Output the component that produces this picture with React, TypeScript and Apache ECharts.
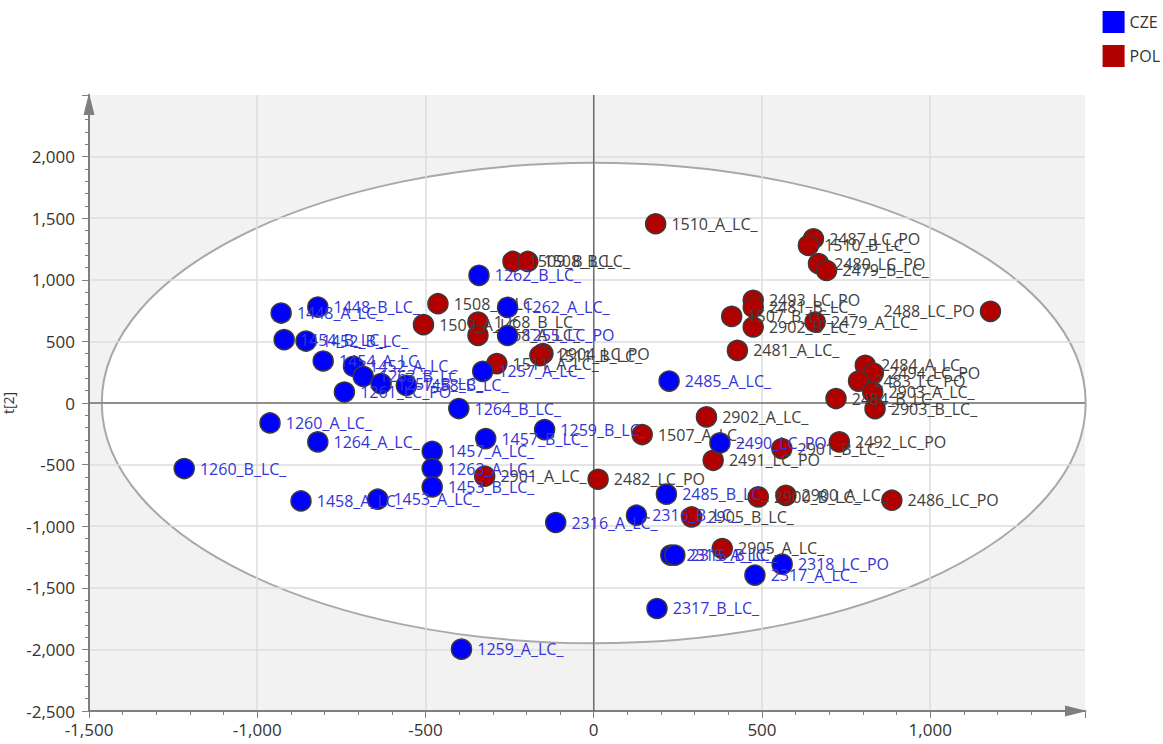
import React, { useEffect, useRef } from 'react';
import * as echarts from 'echarts';

// ---- data ----
const czeLabels = [
  '1262_B_LC_', '1262_A_LC_', '1255_LC_PO', '1257_A_LC_', '1448_A_LC_', '1448_B_LC_',
  '1454_B_LC_', '1452_B_LC_', '1454_A_LC_', '1452_A_LC_', '1263_B_LC_', '1257_B_LC_',
  '1458_B_LC_', '1261_LC_PO', '1264_B_LC_', '1260_A_LC_', '1264_A_LC_', '1457_A_LC_',
  '1263_A_LC_', '1453_B_LC_', '1260_B_LC_', '1458_A_LC_', '1453_A_LC_', '1457_B_LC_',
  '1259_B_LC_', '2316_A_LC_', '2316_B_LC_', '2485_B_LC_', '2490_LC_PO', '2485_A_LC_',
  '2315_A_LC_', '2315_B_LC_', '2318_LC_PO', '2317_A_LC_', '2317_B_LC_', '1259_A_LC_',
];
const czeX = [
  -341, -256, -256, -330, -929, -820,
  -920, -855, -804, -714, -685, -632,
  -557, -741, -401, -962, -820, -480,
  -480, -480, -1217, -870, -642, -321,
  -146, -113, 127, 216, 375, 224,
  229, 241, 560, 479, 188, -393,
];
const czeY = [
  1036, 776, 548, 257, 730, 779,
  514, 503, 341, 298, 216, 157,
  143, 89, -45, -162, -316, -392,
  -532, -681, -532, -795, -781, -289,
  -216, -970, -911, -740, -324, 178,
  -1235, -1235, -1308, -1397, -1668, -1998,
];

const polLabels = [
  '1510_A_LC_', '2487_LC_PO', '1510_B_LC_', '2480_LC_PO', '2479_B_LC_', '2493_LC_PO',
  '2481_B_LC_', '1507_B_LC_', '2902_B_LC_', '2479_A_LC_', '2488_LC_PO', '2481_A_LC_',
  '2484_A_LC_', '2494_LC_PO', '2483_LC_PO', '2903_A_LC_', '2484_B_LC_', '2903_B_LC_',
  '2492_LC_PO', '2901_B_LC_', '2491_LC_PO', '2902_A_LC_', '1507_A_LC_', '2482_LC_PO',
  '2901_A_LC_', '2900_B_LC_', '2900_A_LC_', '2486_LC_PO', '2905_B_LC_', '2905_A_LC_',
  '1509_B_LC_', '1508_B_LC_', '1508_A_LC_', '1509_A_LC_', '1268_B_LC_', '1268_A_LC_',
  '1511_A_LC_', '2904_LC_PO', '1511_B_LC_',
];
const polX = [
  184, 653, 638, 668, 692, 474,
  474, 410, 474, 658, 1179, 427,
  807, 831, 787, 829, 720, 836,
  730, 559, 355, 335, 144, 13,
  -324, 489, 571, 886, 291, 382,
  -240, -196, -463, -506, -344, -344,
  -288, -151, -160,
];
const polY = [
  1455, 1333, 1279, 1131, 1076, 834,
  777, 703, 617, 657, 744, 427,
  306, 243, 178, 89, 36, -46,
  -316, -370, -465, -113, -256, -619,
  -594, -762, -750, -789, -925, -1181,
  1149, 1149, 806, 636, 657, 549,
  320, 401, 385,
];

const leftLabelNames = ['2488_LC_PO'];
const groupNames = ['CZE', 'POL'];
const xRange = [-1500, 1460];
const yRange = [-2500, 2500];
const ellipseRadii = [1462, 1950];

const FONT = "'Open Sans', 'Noto Sans', sans-serif";

function build(labels: string[], xs: number[], ys: number[]) {
  return labels.map((n, i) => {
    const item: any = { value: [xs[i], ys[i], n] };
    if (leftLabelNames.includes(n)) item.label = { position: 'left' };
    return item;
  });
}

export default function App() {
  const ref = useRef<HTMLDivElement>(null);
  useEffect(() => {
    if (!ref.current) return;
    const chart = echarts.init(ref.current, undefined, { renderer: 'svg' });
    const axisColor = '#7f7f7f';
    const axisLine = {
      show: true,
      onZero: false,
      lineStyle: { color: axisColor, width: 2 },
      symbol: ['none', 'triangle'],
      symbolSize: [11, 22],
      symbolOffset: [0, -9],
    };
    const option: any = {
      animation: false,
      backgroundColor: '#ffffff',
      legend: {
        data: groupNames,
        orient: 'vertical',
        right: 3,
        top: 11,
        padding: 0,
        itemWidth: 22,
        itemHeight: 22,
        itemGap: 12,
        icon: 'rect',
        align: 'left',
        itemStyle: { borderWidth: 0 },
        textStyle: { fontSize: 16, color: '#333', fontFamily: FONT },
      },
      grid: { left: 89, right: 78, top: 95, bottom: 33, show: false, containLabel: false, outerBoundsMode: 'none' },
      xAxis: {
        type: 'value',
        min: xRange[0],
        max: xRange[1],
        interval: 500,
        axisLine,
        axisTick: { show: true, length: 7, lineStyle: { color: axisColor } },
        minorTick: { show: true, splitNumber: 5, length: 4, lineStyle: { color: axisColor } },
        splitLine: { show: true, showMaxLine: false, lineStyle: { color: '#dcdcdc', width: 1.5 } },
        axisLabel: {
          formatter: (v: number) => (v % 500 === 0 && v <= 1000 ? v.toLocaleString('en-US') : ''),
          fontSize: 17,
          color: '#333',
          fontFamily: FONT,
          margin: 10,
        },
      },
      yAxis: {
        type: 'value',
        min: yRange[0],
        max: yRange[1],
        interval: 500,
        name: 't[2]',
        nameLocation: 'middle',
        nameRotate: 90,
        nameGap: 70,
        nameTextStyle: { fontSize: 14, color: '#333', fontFamily: FONT },
        axisLine,
        axisTick: { show: true, length: 7, lineStyle: { color: axisColor } },
        minorTick: { show: true, splitNumber: 5, length: 4, lineStyle: { color: axisColor } },
        splitLine: { show: true, showMaxLine: false, lineStyle: { color: '#dcdcdc', width: 1.5 } },
        axisLabel: {
          formatter: (v: number) => (v % 500 === 0 && v < 2500 ? v.toLocaleString('en-US') : ''),
          fontSize: 17,
          color: '#333',
          fontFamily: FONT,
          margin: 14,
        },
      },
      series: [
        {
          type: 'custom',
          name: 'bg',
          z: -1,
          silent: true,
          data: [[0, 0]],
          renderItem: (params: any, api: any) => {
            const cs = params.coordSys;
            const c = api.coord([0, 0]);
            const e = api.coord([ellipseRadii[0], ellipseRadii[1]]);
            return {
              type: 'group',
              children: [
                { type: 'rect', shape: { x: cs.x, y: cs.y, width: cs.width, height: cs.height }, style: { fill: '#f2f2f2' } },
                {
                  type: 'ellipse',
                  shape: { cx: c[0], cy: c[1], rx: e[0] - c[0], ry: c[1] - e[1] },
                  style: { fill: '#ffffff', stroke: '#a8a8a8', lineWidth: 2 },
                },
              ],
            };
          },
        },
        {
          type: 'custom',
          name: 'zero',
          z: 1,
          silent: true,
          data: [[0, 0]],
          renderItem: (params: any, api: any) => {
            const cs = params.coordSys;
            const c = api.coord([0, 0]);
            return {
              type: 'group',
              children: [
                { type: 'line', shape: { x1: c[0], y1: cs.y, x2: c[0], y2: cs.y + cs.height }, style: { stroke: '#6f6f6f', lineWidth: 1.5 } },
                { type: 'line', shape: { x1: cs.x, y1: c[1], x2: cs.x + cs.width, y2: c[1] }, style: { stroke: '#6f6f6f', lineWidth: 1.5 } },
              ],
            };
          },
        },
        {
          type: 'scatter',
          name: 'POL',
          z: 2,
          data: build(polLabels, polX, polY),
          symbol: 'circle',
          symbolSize: 20,
          itemStyle: { color: '#b00000', borderColor: '#3a3a3a', borderWidth: 1.5, opacity: 1 },
          label: {
            show: true,
            position: 'right',
            distance: 5,
            formatter: (p: any) => p.value[2],
            color: '#404040',
            fontSize: 16,
            fontFamily: FONT,
          },
        },
        {
          type: 'scatter',
          name: 'CZE',
          z: 3,
          data: build(czeLabels, czeX, czeY),
          symbol: 'circle',
          symbolSize: 20,
          itemStyle: { color: '#0000ff', borderColor: '#3a3a3a', borderWidth: 1.5, opacity: 1 },
          label: {
            show: true,
            position: 'right',
            distance: 5,
            formatter: (p: any) => p.value[2],
            color: '#3535d5',
            fontSize: 16,
            fontFamily: FONT,
          },
        },
      ],
    };
    chart.setOption(option);
    return () => chart.dispose();
  }, []);
  return (
    <div
      ref={ref}
      style={{ position: 'fixed', left: 0, top: 0, width: 1163, height: 744 }}
    />
  );
}
